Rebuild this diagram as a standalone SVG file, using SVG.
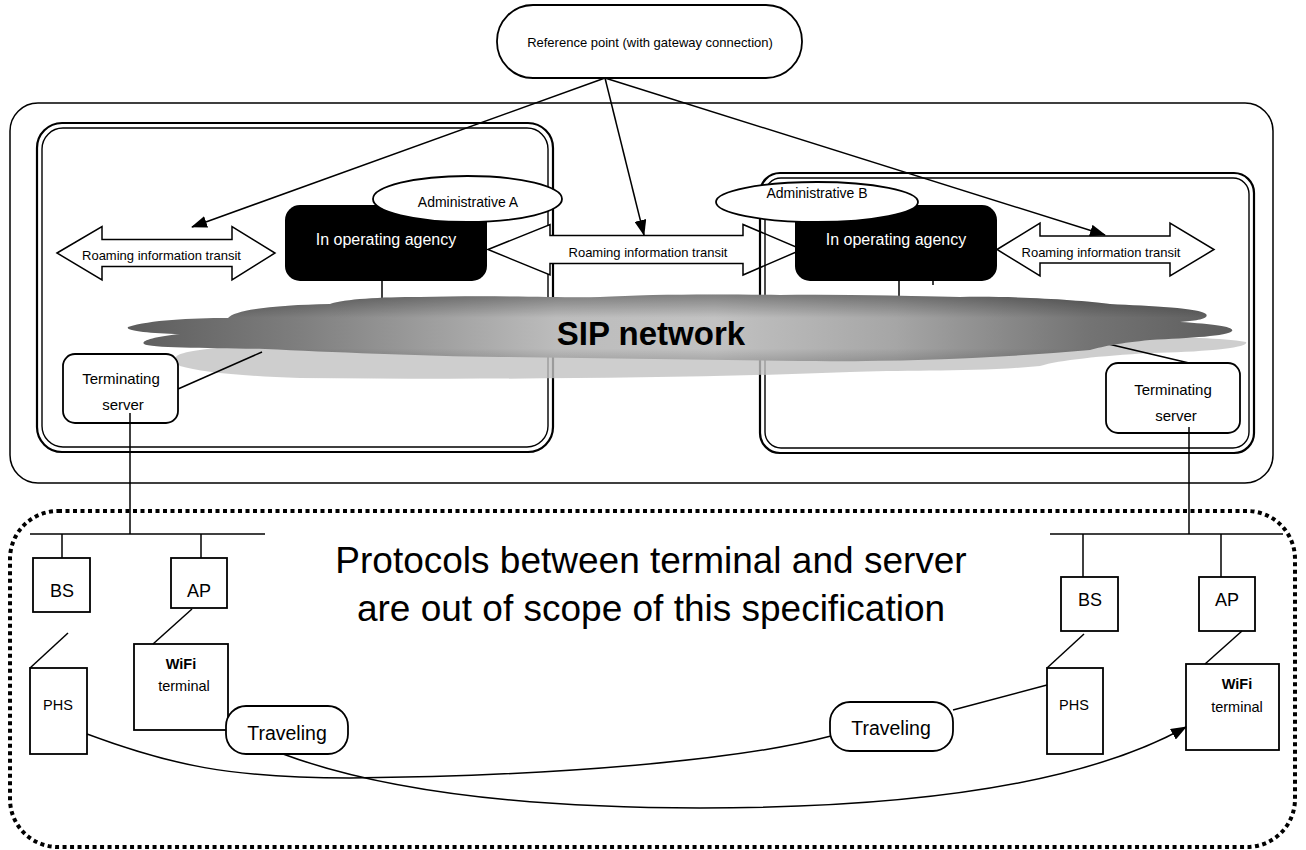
<svg xmlns="http://www.w3.org/2000/svg" width="1306" height="850" viewBox="0 0 1306 850">
  <style>
    .ln { fill: none; stroke: #000; stroke-width: 1.5; }
    .box { fill: #fff; stroke: #000; stroke-width: 1.8; }
    .dbl-o { fill: none; stroke: #000; stroke-width: 2.2; }
    .dbl-i { fill: none; stroke: #000; stroke-width: 1.4; }
    .agency { fill: #000; }
    .arrow2 { fill: #fff; stroke: #000; stroke-width: 1.5; stroke-linejoin: miter; }
    text { font-family: "Liberation Sans", Arial, sans-serif; fill: #000; text-anchor: middle; }
    .t13 { font-size: 13px; }
    .t14 { font-size: 14px; }
    .t15 { font-size: 15px; }
    .wht { fill: #fff; font-size: 16px; }
    .big { font-size: 37px; }
    .sip { font-size: 33px; font-weight: bold; }
    .trav { font-size: 19.5px; }
    .bs { font-size: 18px; }
    .phs { font-size: 14.5px; }
    .wifi { font-size: 14.5px; font-weight: bold; }
  </style>
  <defs>
    <marker id="tip" markerWidth="16" markerHeight="12" refX="15" refY="6" orient="auto" markerUnits="userSpaceOnUse">
      <path d="M0,0 L16,6 L0,12 Z" fill="#000"/>
    </marker>
    <linearGradient id="cloudFill" gradientUnits="userSpaceOnUse" x1="128" y1="0" x2="1255" y2="0">
      <stop offset="0" stop-color="#5c5c5c"/>
      <stop offset="0.15" stop-color="#7e7e7e"/>
      <stop offset="0.38" stop-color="#bcbcbc"/>
      <stop offset="0.52" stop-color="#c2c2c2"/>
      <stop offset="0.68" stop-color="#a6a6a6"/>
      <stop offset="0.85" stop-color="#747474"/>
      <stop offset="1" stop-color="#5a5a5a"/>
    </linearGradient>
    <linearGradient id="cloudShade" gradientUnits="userSpaceOnUse" x1="0" y1="294" x2="0" y2="362">
      <stop offset="0" stop-color="#000" stop-opacity="0.35"/>
      <stop offset="0.35" stop-color="#000" stop-opacity="0"/>
      <stop offset="0.8" stop-color="#000" stop-opacity="0"/>
      <stop offset="1" stop-color="#000" stop-opacity="0.15"/>
    </linearGradient>
    <path id="cloudShape" d="M128,327 C150,320 190,318 228,318 C235,309 280,305 330,304 C345,299 380,297 420,297 C500,295 560,298 600,297 C650,294 720,294 780,295 C840,294 900,296 960,297 C1020,296 1080,300 1110,304 C1150,306 1200,308 1206,314 C1210,319 1195,321 1180,322 C1215,324 1235,327 1232,331 C1228,336 1190,338 1150,340 C1120,343 1105,346 1090,350 C1000,358 900,362 800,361 C700,360 600,358 500,357 C420,356 330,352 265,349 C210,348 150,348 144,344 C140,340 160,336 180,334 C150,333 125,331 128,327 Z"/>
  </defs>

  <rect width="1306" height="850" fill="#fff"/>

  <!-- operator domain frame -->
  <g id="domain">
    <rect x="10" y="103" width="1263" height="380" rx="28" class="ln"/>
  </g>

  <!-- administrative domain A (double border) -->
  <g id="admin-a-frame">
    <rect x="37" y="123" width="516" height="329" rx="25" class="dbl-o"/>
    <rect x="42" y="128" width="506" height="319" rx="21" class="dbl-i"/>
  </g>

  <g id="agency-a">
    <rect x="285" y="205" width="202" height="76" rx="15" class="agency"/>
    <text x="386" y="245" class="wht">In operating agency</text>
  </g>

  <!-- roaming transit arrows -->
  <g id="transit-left">
    <path class="arrow2" d="M57,253 L102,226.5 L102,239.5 L232,239.5 L232,226.5 L275,253 L232,280 L232,266.5 L102,266.5 L102,280 Z"/>
    <text x="161.5" y="260" class="t13">Roaming information transit</text>
  </g>
  <g id="transit-middle">
    <path class="arrow2" d="M488,249.5 L550,224.5 L550,235.5 L743,235.5 L743,224.5 L802,249.5 L743,275 L743,263.5 L550,263.5 L550,275 Z"/>
    <text x="648" y="257" class="t13">Roaming information transit</text>
  </g>

  <!-- administrative domain B (double border) -->
  <g id="admin-b-frame">
    <rect x="760" y="173" width="494" height="280" rx="20" class="dbl-o"/>
    <rect x="765" y="178" width="484" height="270" rx="16" class="dbl-i"/>
  </g>

  <g id="agency-b">
    <rect x="795" y="205" width="202" height="76" rx="15" class="agency"/>
    <text x="896" y="245" class="wht">In operating agency</text>
  </g>

  <g id="transit-right">
    <path class="arrow2" d="M997,249.5 L1040,223 L1040,236 L1170,236 L1170,223 L1214,249.5 L1170,276 L1170,263 L1040,263 L1040,276 Z"/>
    <text x="1101" y="257" class="t13">Roaming information transit</text>
  </g>

  <g id="admin-a-label">
    <ellipse cx="467.5" cy="199" rx="94.5" ry="23" class="box" stroke-width="1.5"/>
    <text x="468" y="207" class="t14">Administrative A</text>
  </g>
  <g id="admin-b-label">
    <ellipse cx="817" cy="202" rx="101" ry="20" class="box" stroke-width="1.5"/>
    <text x="817" y="198" class="t14">Administrative B</text>
  </g>

  <!-- SIP network cloud -->
  <g id="sip-network">
    <path d="M176,357 C180,350 230,345 300,345 L1000,340 C1100,336 1200,335 1246,342 C1250,348 1200,352 1150,353 C1100,356 1060,360 1040,366 C980,372 900,370 850,372 C700,378 500,380 300,378 C240,376 200,372 180,366 C174,362 174,359 176,357 Z" fill="#c2c2c2" fill-opacity="0.8"/>
    <g class="connectors">
      <line x1="178" y1="389" x2="262" y2="352" class="ln"/>
      <line x1="1189" y1="363" x2="1104" y2="343" class="ln"/>
      <line x1="382" y1="281" x2="382" y2="302" class="ln"/>
      <line x1="899" y1="281" x2="899" y2="300" class="ln"/>
      <line x1="933" y1="280" x2="933" y2="285" class="ln"/>
    </g>
    <use href="#cloudShape" fill="url(#cloudFill)"/>
    <use href="#cloudShape" fill="url(#cloudShade)"/>
    <text x="651" y="345" class="sip">SIP network</text>
  </g>

  <g id="term-server-a">
    <rect x="63" y="354" width="115" height="69" rx="12" class="box"/>
    <text x="121" y="384" class="t15">Terminating</text>
    <text x="123" y="410" class="t15">server</text>
  </g>
  <g id="term-server-b">
    <rect x="1106" y="363" width="134" height="70" rx="12" class="box"/>
    <text x="1173" y="395" class="t15">Terminating</text>
    <text x="1176" y="421" class="t15">server</text>
  </g>

  <!-- reference point -->
  <g id="reference-point">
    <rect x="497" y="5" width="305" height="73" rx="36" class="box"/>
    <text x="650" y="47" class="t13">Reference point (with gateway connection)</text>
  </g>

  <!-- out-of-scope access area -->
  <g id="access-area">
    <rect x="10" y="511" width="1285" height="336" rx="48" fill="none" stroke="#000" stroke-width="4" stroke-dasharray="4 3.5"/>
    <text x="651" y="573" class="big">Protocols between terminal and server</text>
    <text x="651" y="621" class="big">are out of scope of this specification</text>
  </g>

  <g id="bs-a"><rect x="33" y="558" width="57" height="54" class="box"/><text x="62" y="597" class="bs">BS</text></g>
  <g id="ap-a"><rect x="171" y="558" width="56" height="50" class="box"/><text x="199" y="597" class="bs">AP</text></g>
  <g id="phs-a"><rect x="30" y="668" width="57" height="86" class="box"/><text x="58" y="710" class="phs">PHS</text></g>
  <g id="wifi-a"><rect x="134" y="644" width="94" height="86" class="box"/><text x="181" y="669" class="wifi">WiFi</text><text x="184" y="691" class="phs">terminal</text></g>
  <g id="travel-a"><rect x="226" y="706" width="122" height="48" rx="20" class="box"/><text x="287" y="740" class="trav">Traveling</text></g>

  <g id="bs-b"><rect x="1061" y="577" width="57" height="54" class="box"/><text x="1090" y="606" class="bs">BS</text></g>
  <g id="ap-b"><rect x="1199" y="577" width="56" height="54" class="box"/><text x="1227" y="606" class="bs">AP</text></g>
  <g id="phs-b"><rect x="1047" y="668" width="56" height="86" class="box"/><text x="1074" y="710" class="phs">PHS</text></g>
  <g id="wifi-b"><rect x="1186" y="664" width="93" height="86" class="box"/><text x="1237" y="689" class="wifi">WiFi</text><text x="1237" y="712" class="phs">terminal</text></g>
  <g id="travel-b"><rect x="830" y="702" width="123" height="49" rx="20" class="box"/><text x="891" y="735" class="trav">Traveling</text></g>

  <!-- connectors -->
  <g id="connectors" class="connectors">
    <line x1="605" y1="78" x2="192" y2="227" class="ln" marker-end="url(#tip)"/>
    <line x1="605" y1="78" x2="644" y2="235" class="ln" marker-end="url(#tip)"/>
    <line x1="605" y1="78" x2="1105" y2="235" class="ln" marker-end="url(#tip)"/>

    <line x1="130" y1="413" x2="130" y2="534" class="ln"/>
    <line x1="1189" y1="427" x2="1189" y2="534" class="ln"/>
    <line x1="30" y1="534" x2="265" y2="534" class="ln"/>
    <line x1="1050" y1="534" x2="1283" y2="534" class="ln"/>
    <line x1="62" y1="534" x2="62" y2="558" class="ln"/>
    <line x1="201" y1="534" x2="201" y2="558" class="ln"/>
    <line x1="1083" y1="534" x2="1083" y2="577" class="ln"/>
    <line x1="1221" y1="534" x2="1221" y2="577" class="ln"/>

    <line x1="68" y1="633" x2="30" y2="668" class="ln"/>
    <line x1="192" y1="609" x2="153" y2="644" class="ln"/>
    <line x1="1084" y1="634" x2="1047" y2="668" class="ln"/>
    <line x1="1242" y1="631" x2="1205" y2="664" class="ln"/>
    <line x1="953" y1="710" x2="1047" y2="685" class="ln"/>

    <path d="M87,734 C170,765 230,778 350,778 C560,776 740,760 831,736" class="ln"/>
    <path d="M283,754 C380,790 520,808 700,808 C950,808 1100,775 1186,727" class="ln" marker-end="url(#tip)"/>
  </g>
</svg>
